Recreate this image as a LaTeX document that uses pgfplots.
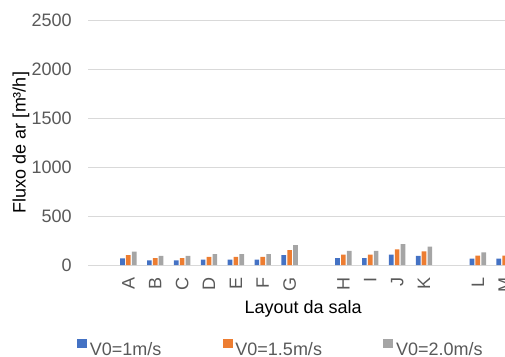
\documentclass[border=0pt]{standalone}
\usepackage{pgfplots}
\pgfplotsset{compat=1.18}
\usepackage{fontspec}
\setmainfont{Liberation Sans}
\definecolor{cA}{HTML}{4472C4}
\definecolor{cB}{HTML}{ED7D31}
\definecolor{cC}{HTML}{A5A5A5}
\definecolor{gridc}{HTML}{D9D9D9}
\definecolor{txt}{HTML}{595959}
\pgfplotstableread{
x v1 v15 v2
0 68 102 136
1 46 69 92
2 46 69 92
3 56 84 112
4 56 84 112
5 56 84 112
6 102 153 204
8 71 107 143
9 71 107 143
10 106 160 213
11 93 140 187
13 64 96 128
14 64 96 128
}\datatable
\begin{document}
\fontsize{13.5pt}{16pt}\selectfont
\begin{tikzpicture}
\begin{axis}[
  at={(0,0)}, anchor=south west,
  scale only axis, width=322.6pt, height=183.75pt,
  xmin=-1.5, xmax=14.5, ymin=0, ymax=2500,
  ybar=0.9pt, bar width=3.5pt,
  axis line style={draw=none},
  ytick={0,500,1000,1500,2000,2500},
  ymajorgrids, major grid style={draw=gridc, line width=0.75pt},
  major tick length=0pt,
  xtick={0,1,2,3,4,5,6,8,9,10,11,13,14},
  xticklabels={A,B,C,D,E,F,G,H,I,J,K,L,M},
  /pgf/number format/assume math mode=true,
  /pgf/number format/1000 sep={},
  tick label style={text=txt, font=\fontsize{13.5pt}{16pt}\selectfont},
  yticklabel style={anchor=east, inner sep=0pt, xshift=-12pt},
  xticklabel style={yshift=-9pt, rotate=90, anchor=east, inner sep=0pt},
  xlabel={Layout da sala},
  ylabel={Fluxo de ar [m³/h]},
  label style={text=txt, font=\fontsize{13.5pt}{16pt}\selectfont},
  every axis y label/.style={at={(axis description cs:-0.1558,0.5)}, rotate=90, anchor=center},
  every axis x label/.style={at={(axis description cs:0.5,-0.18)}, anchor=center},
  legend columns=3,
  legend style={at={(axis description cs:-0.0256,-0.347)}, anchor=west, draw=none, fill=none,
    inner sep=0pt, font=\fontsize{13.5pt}{16pt}\selectfont, text=txt,
    /tikz/every even column/.append style={column sep=44pt}},
  legend image code/.code={\fill[#1, draw=none] (0pt,1.4pt) rectangle (7.5pt,8.4pt);},
]
\addplot[fill=cA, draw=none] table[x=x, y=v1] {\datatable};
\addplot[fill=cB, draw=none] table[x=x, y=v15] {\datatable};
\addplot[fill=cC, draw=none] table[x=x, y=v2] {\datatable};
\legend{V0=1m/s, V0=1.5m/s, V0=2.0m/s}
\end{axis}
\pgfresetboundingbox
\path[use as bounding box] (-66pt,-68.25pt) rectangle (312.75pt,198.75pt);
\end{tikzpicture}
\end{document}
